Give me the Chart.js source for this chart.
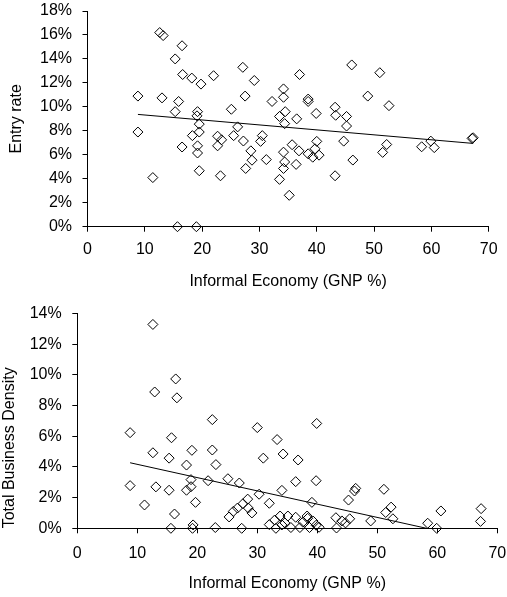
<!DOCTYPE html>
<html>
<head>
<meta charset="utf-8">
<script src="https://cdn.jsdelivr.net/npm/chart.js@4/dist/chart.umd.min.js"></script>
<style>
  body { margin: 0; background: #fff; }
  .box { position: absolute; left: 0; }
</style>
</head>
<body>
<div class="box" style="top:0"><canvas id="entry" width="507" height="300"></canvas></div>
<div class="box" style="top:300px"><canvas id="density" width="507" height="297"></canvas></div>
<script>
// informal economy (GNP %) vs entry rate (%)
const entryX = [8.8, 8.8, 11.4, 12.6, 13.2, 13.0, 15.3, 15.3, 15.9, 16.5, 16.6, 16.5, 15.7, 18.2, 18.3,
  19.2, 19.1, 19.5, 19.5, 19.2, 19.2, 19.5, 19.0, 19.8, 22.0, 22.7, 23.4, 22.7, 23.2, 25.1, 25.5, 26.2,
  27.1, 27.5, 27.2, 28.5, 28.7, 27.6, 29.1, 30.5, 30.2, 31.2, 32.2, 33.5, 33.5, 34.2, 34.2, 34.5, 34.4,
  34.2, 34.4, 34.2, 35.2, 35.7, 36.5, 36.9, 36.4, 37.0, 38.5, 38.5, 38.5, 39.3, 39.9, 39.7, 40.0, 40.4,
  43.2, 43.3, 43.2, 44.7, 45.2, 45.2, 46.1, 46.3, 48.9, 51.0, 51.5, 52.2, 52.6, 58.3, 59.9, 60.5, 67.1, 67.3];
const entryY = [10.9, 7.9, 4.1, 16.2, 15.95, 10.75, 14.0, 9.6, 10.45, 15.1, 12.7, 6.65, 0, 12.4, 7.6,
  9.6, 9.25, 8.56, 7.9, 6.75, 6.15, 4.67, 0, 11.9, 12.6, 7.55, 7.25, 6.75, 4.25, 9.8, 7.6, 8.33,
  13.3, 10.9, 7.15, 6.33, 5.55, 4.86, 12.2, 7.6, 7.12, 5.6, 10.45, 9.2, 3.95, 11.5, 10.8, 9.6, 8.6,
  6.22, 5.4, 4.86, 2.62, 6.84, 9.0, 6.33, 5.2, 12.7, 10.65, 10.45, 6.08, 5.8, 9.45, 6.5, 7.12, 5.97,
  9.97, 9.3, 4.25, 7.14, 9.2, 8.4, 13.5, 5.56, 10.9, 12.85, 6.2, 6.86, 10.1, 6.67, 7.14, 6.6, 7.37, 7.42];
const entryTrendX = [8.8, 67.3];
const entryTrendY = [9.37, 6.95];

// informal economy (GNP %) vs total business density (%)
const densityX = [8.8, 8.8, 11.2, 12.6, 12.9, 12.6, 13.1, 15.3, 15.3, 15.7, 15.6, 16.2, 16.4, 16.6, 18.2,
  18.2, 18.95, 18.95, 19.1, 19.2, 19.3, 19.7, 21.8, 22.5, 22.5, 23.1, 23.0, 25.1, 25.3, 26.0, 26.7, 27.0,
  27.4, 27.6, 28.4, 28.5, 29.1, 30.0, 30.3, 31.0, 32.0, 32.0, 32.9, 33.1, 33.3, 33.8, 34.1, 34.3, 34.1,
  34.6, 35.1, 35.6, 36.4, 36.4, 36.8, 37.1, 37.6, 38.3, 38.4, 38.7, 39.1, 39.3, 39.8, 39.9, 39.8, 40.3,
  43.1, 43.2, 44.1, 44.7, 45.2, 45.4, 46.2, 46.4, 48.9, 51.1, 51.4, 52.3, 52.6, 58.4, 59.9, 60.6, 67.3, 67.2];
const densityY = [6.23, 2.78, 1.52, 13.28, 8.88, 4.92, 2.7, 4.57, 2.48, 5.9, 0, 0.93, 9.73, 8.5, 4.12,
  2.48, 3.17, 2.71, 5.08, 0, 0.22, 1.69, 3.1, 7.08, 5.1, 4.15, 0.05, 3.23, 0.74, 1.1, 1.32, 2.95,
  0, 1.6, 1.9, 1.32, 1.0, 6.56, 2.22, 4.57, 1.63, 0.24, 0.54, 0, 5.78, 0.8, 2.47, 4.84, 0.22,
  0.35, 0.8, 0.05, 3.04, 0.72, 4.45, 0.05, 0.4, 0.8, 0.65, 0.05, 1.69, 0.47, 3.1, 6.83, 0.2, 0.07,
  0.69, 0.02, 0.48, 0.35, 1.84, 0.62, 2.43, 2.6, 0.48, 2.54, 1.03, 1.38, 0.62, 0.33, 0, 1.13, 1.28, 0.45];
const densityTrendX = [8.8, 58.2];
const densityTrendY = [4.27, 0];

const xTitle = 'Informal Economy (GNP %)';

Chart.defaults.font.family = '"Liberation Sans", Arial, sans-serif';
Chart.defaults.font.size = 16;
Chart.defaults.color = '#000';

function pts(xs, ys) {
  return xs.map((x, i) => ({ x: x, y: ys[i] }));
}

function makeChart(id, o) {
  new Chart(document.getElementById(id), {
    type: 'scatter',
    data: {
      datasets: [
        {
          data: pts(o.xs, o.ys),
          pointStyle: 'rectRot',
          pointRadius: 5,
          pointHoverRadius: 5,
          backgroundColor: 'rgba(0,0,0,0)',
          borderColor: '#000',
          borderWidth: 1,
          clip: false
        },
        {
          data: pts(o.tx, o.ty),
          showLine: true,
          pointRadius: 0,
          borderColor: '#000',
          borderWidth: 1
        }
      ]
    },
    options: {
      responsive: false,
      animation: false,
      events: [],
      layout: { padding: { top: o.top, right: o.right, left: 0, bottom: 0 } },
      plugins: { legend: { display: false }, tooltip: { enabled: false } },
      scales: {
        x: {
          type: 'linear',
          min: 0, max: 70,
          ticks: { stepSize: 10, padding: o.xPad, autoSkip: false, maxRotation: 0 },
          grid: { drawOnChartArea: false, drawTicks: true, tickLength: 5, color: '#000' },
          border: { display: true, color: '#000', width: 1 },
          title: { display: true, text: xTitle, padding: { top: 0, bottom: o.xTitlePad } },
          afterFit: (s) => {
            s.height = o.xHeight;
            s.paddingLeft = 0; s.paddingRight = 0;
          }
        },
        y: {
          type: 'linear',
          min: 0, max: o.yMax,
          ticks: { stepSize: 2, padding: o.yPad, autoSkip: false, callback: (v) => v + '%' },
          grid: { drawOnChartArea: false, drawTicks: true, tickLength: 5, color: '#000' },
          border: { display: true, color: '#000', width: 1 },
          title: { display: true, text: o.yTitle, align: o.yAlign, padding: { top: o.yTitlePad, bottom: 0 } },
          afterFit: (s) => {
            s.width = o.yWidth;
            s.paddingTop = 0; s.paddingBottom = 0;
          }
        }
      }
    }
  });
}

makeChart('entry', {
  xs: entryX, ys: entryY, tx: entryTrendX, ty: entryTrendY,
  yMax: 18, yTitle: 'Entry rate', yAlign: 'center',
  top: 11, right: 18.3, yWidth: 87.5, xHeight: 73.3,
  xPad: 8.7, xTitlePad: 8.7, yPad: 10.5, yTitlePad: 7.4
});

makeChart('density', {
  xs: densityX, ys: densityY, tx: densityTrendX, ty: densityTrendY,
  yMax: 14, yTitle: 'Total Business Density', yAlign: 'start',
  top: 13.4, right: 9.7, yWidth: 77.3, xHeight: 68.7,
  xPad: 10.4, xTitlePad: 3.4, yPad: 10.6, yTitlePad: 0
});
</script>
</body>
</html>
